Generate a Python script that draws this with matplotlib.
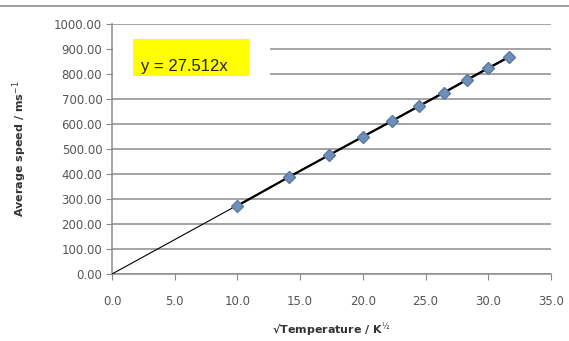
import matplotlib
matplotlib.use("Agg")
import matplotlib.pyplot as plt
from matplotlib.patches import Rectangle
from matplotlib.lines import Line2D
import numpy as np

sqrt_temp = [10.0, 14.14, 17.32, 20.0, 22.36, 24.49, 26.46, 28.28, 30.0, 31.62]
avg_speed = [273, 389, 476, 549, 613, 672, 725, 776, 823, 867]
slope = 27.512
x_ticks = [0, 5, 10, 15, 20, 25, 30, 35]
y_ticks = [0, 100, 200, 300, 400, 500, 600, 700, 800, 900, 1000]
eq_label = "y = 27.512x"

W, H = 569, 341
fig = plt.figure(figsize=(W/100, H/100), dpi=100)
ax = fig.add_axes([112/W, 1-274/H, (551-112)/W, (274-24)/H])

ax.set_xlim(0, 35)
ax.set_ylim(0, 1000)
ax.set_xticks(x_ticks)
ax.set_yticks(y_ticks)
ax.set_xticklabels([f"{v:.1f}" for v in x_ticks])
ax.set_yticklabels([f"{v:.2f}" for v in y_ticks])
ax.tick_params(axis='both', colors='#888888', labelcolor='#555555', labelsize=8.5,
               length=4, direction='out')
ax.tick_params(axis='x', pad=11)
ax.tick_params(axis='y', pad=3)

ax.yaxis.grid(True, color='#8c8c8c', linewidth=1.1)
ax.set_axisbelow(True)
for s in ['top', 'right']:
    ax.spines[s].set_visible(False)
for s in ['left', 'bottom']:
    ax.spines[s].set_color('#8c8c8c')
    ax.spines[s].set_linewidth(1.1)

# white area behind equation label hiding gridlines
ax.add_patch(Rectangle((0.05, 720), 12.55, 230, facecolor='white', edgecolor='none', zorder=1.5))
ax.add_patch(Rectangle((1.67, 792), 9.25, 148, facecolor='#ffff00', edgecolor='none', zorder=2))
ax.text(2.3, 830, eq_label, fontsize=12, family='Liberation Sans', color='#222222',
        va='center', ha='left', zorder=3)

xs = np.array([0, sqrt_temp[-1]])
ax.plot(xs, slope*xs, color='black', linewidth=0.8, zorder=3)
ax.plot(sqrt_temp, avg_speed, color='black', linewidth=1.6, marker='D', markersize=6,
        markerfacecolor='#6f8fb8', markeredgecolor='#5a7aa5', zorder=4)

ax.set_xlabel('√Temperature / K$^{½}$', fontsize=8, fontweight='bold', color='#333333', labelpad=10)
ax.set_ylabel('Average speed / ms$^{-1}$', fontsize=8, fontweight='bold', color='#333333', labelpad=18)

fig.add_artist(Line2D([0, 1], [1-6/H, 1-6/H], transform=fig.transFigure, color='#8c8c8c', linewidth=1.2))

fig.savefig('out.png', dpi=100)
